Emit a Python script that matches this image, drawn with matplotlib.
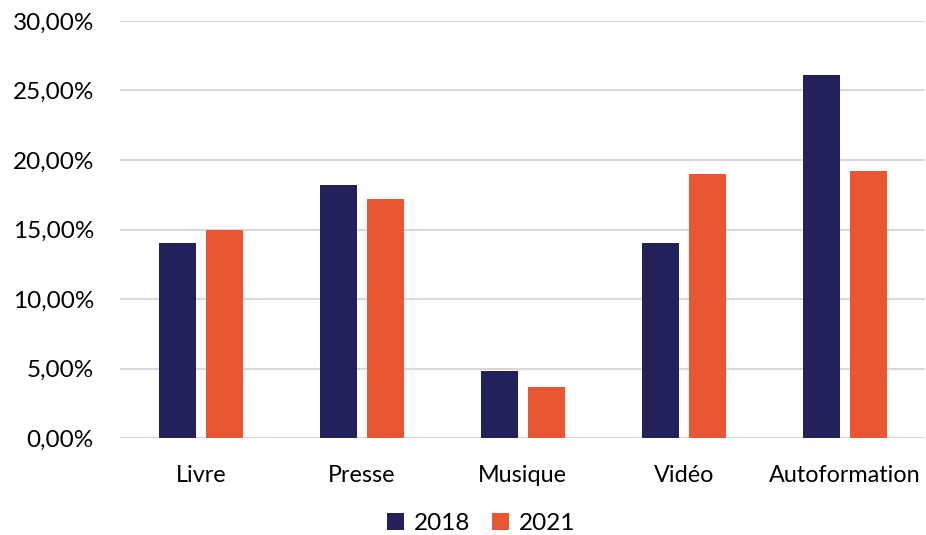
import matplotlib.pyplot as plt
import numpy as np
from matplotlib.ticker import FuncFormatter

categories = ["Livre", "Presse", "Musique", "Vidéo", "Autoformation"]
values_2018 = [14.0, 18.2, 4.8, 14.0, 26.1]
values_2021 = [15.0, 17.2, 3.7, 19.0, 19.2]

navy = "#22215a"
orange = "#ea5634"

plt.rcParams["font.family"] = ["Lato", "DejaVu Sans"]

fig = plt.figure(figsize=(9.26, 5.35), dpi=100)
ax = fig.add_axes([0.13, 0.181, 0.869, 0.78])

x = np.arange(len(categories))
w = 0.23
gap = 0.062
ax.bar(x - (w + gap) / 2, values_2018, w, color=navy, label="2018", zorder=3)
ax.bar(x + (w + gap) / 2, values_2021, w, color=orange, label="2021", zorder=3)

ax.set_xlim(-0.5, len(categories) - 0.5)
ax.set_ylim(0, 30)
ax.set_yticks(np.arange(0, 31, 5))
ax.yaxis.set_major_formatter(FuncFormatter(lambda v, p: f"{v:.2f}%".replace(".", ",")))
ax.set_xticks(x)
ax.set_xticklabels(categories, fontsize=16.8)
ax.tick_params(axis="y", labelsize=17.5, length=0, pad=19)
ax.tick_params(axis="x", length=0, pad=19)
ax.grid(axis="y", color="#d9d9d9", linewidth=1.5, zorder=0)
for s in ax.spines.values():
    s.set_visible(False)

ax.legend(loc="center", bbox_to_anchor=(0.448, -0.205), ncol=2, frameon=False,
          fontsize=17.5, handlelength=0.7, handleheight=0.7, handletextpad=0.4,
          columnspacing=0.9, borderaxespad=0, borderpad=0.2)

fig.savefig("out.png", dpi=100)
